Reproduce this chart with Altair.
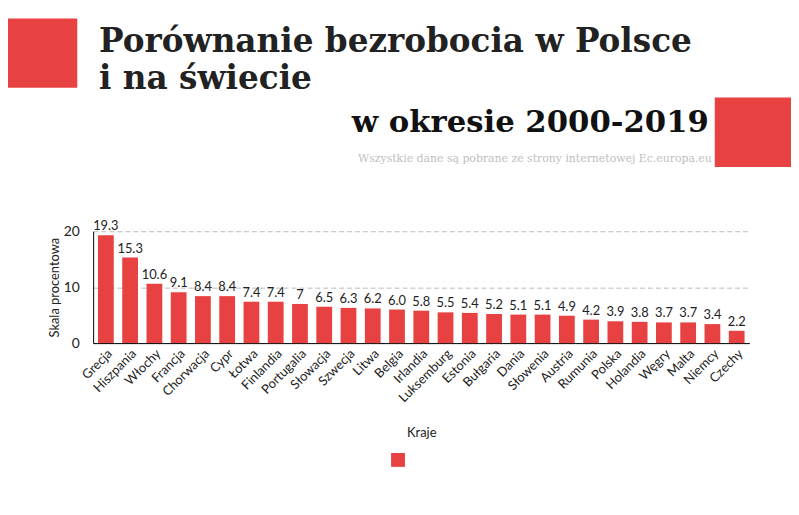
import altair as alt
import pandas as pd

countries = ["Grecja", "Hiszpania", "Włochy", "Francja", "Chorwacja", "Cypr", "Łotwa",
             "Finlandia", "Portugalia", "Słowacja", "Szwecja", "Litwa", "Belgia", "Irlandia",
             "Luksemburg", "Estonia", "Bułgaria", "Dania", "Słowenia", "Austria", "Rumunia",
             "Polska", "Holandia", "Węgry", "Malta", "Niemcy", "Czechy"]
values = [19.3, 15.3, 10.6, 9.1, 8.4, 8.4, 7.4, 7.4, 7.0, 6.5, 6.3, 6.2, 6.0, 5.8,
          5.5, 5.4, 5.2, 5.1, 5.1, 4.9, 4.2, 3.9, 3.8, 3.7, 3.7, 3.4, 2.2]
labels = ["19.3", "15.3", "10.6", "9.1", "8.4", "8.4", "7.4", "7.4", "7", "6.5", "6.3",
          "6.2", "6.0", "5.8", "5.5", "5.4", "5.2", "5.1", "5.1", "4.9", "4.2", "3.9",
          "3.8", "3.7", "3.7", "3.4", "2.2"]
y_ticks = [0, 10, 20]

RED = "#E84142"

df = pd.DataFrame({"Kraj": countries, "Wartosc": values, "Etykieta": labels, "seria": [""] * len(countries)})

x_enc = alt.X("Kraj:N", sort=None, title="Kraje",
              scale=alt.Scale(paddingInner=0.35, paddingOuter=0.2),
              axis=alt.Axis(labelAngle=-45, ticks=False, labelPadding=4, titlePadding=22,
                            domainColor="#000", labelFont="Lato", labelFontSize=13,
                            labelColor="#222", titleFont="Lato", titleFontSize=13,
                            titleFontWeight="normal", titleColor="#222"))
y_enc = alt.Y("Wartosc:Q", title="Skala procentowa",
              scale=alt.Scale(domain=[0, 20]),
              axis=alt.Axis(values=y_ticks, ticks=False, labelPadding=14, titlePadding=2,
                            grid=True, gridDash=[5, 3], gridColor="#bbbbbb",
                            domainColor="#000", labelFont="Lato", labelFontSize=14,
                            labelColor="#222", titleFont="Lato", titleFontSize=13,
                            titleFontWeight="normal", titleColor="#222"))

bars = alt.Chart(df).mark_bar(color=RED).encode(
    x=x_enc, y=y_enc,
    color=alt.Color("seria:N", scale=alt.Scale(range=[RED]),
                    legend=alt.Legend(orient="none", legendX=301, legendY=224, title=None,
                                      symbolType="square", symbolSize=196, symbolStrokeWidth=0,
                                      labelExpr="''", padding=0)),
)
texts = alt.Chart(df).mark_text(dy=-9, font="Lato", fontSize=13, color="#222").encode(
    x=alt.X("Kraj:N", sort=None), y="Wartosc:Q", text="Etykieta:N"
)

one = alt.Data(values=[{"a": 1}])
TFONT = "DejaVu Serif"

rect_left = alt.Chart(one).mark_rect(color=RED).encode(
    x=alt.value(-86), x2=alt.value(-16), y=alt.value(-215), y2=alt.value(-145))
rect_right = alt.Chart(one).mark_rect(color=RED).encode(
    x=alt.value(628), x2=alt.value(705), y=alt.value(-135), y2=alt.value(-65))
t1 = alt.Chart(one).mark_text(font=TFONT, fontWeight="bold", fontSize=33, color="#222",
                              align="left", baseline="alphabetic").encode(
    x=alt.value(6), y=alt.value(-181), text=alt.value("Porównanie bezrobocia w Polsce"))
t2 = alt.Chart(one).mark_text(font=TFONT, fontWeight="bold", fontSize=33, color="#222",
                              align="left", baseline="alphabetic").encode(
    x=alt.value(6), y=alt.value(-144), text=alt.value("i na świecie"))
t3 = alt.Chart(one).mark_text(font=TFONT, fontWeight="bold", fontSize=31, color="#111",
                              align="right", baseline="alphabetic").encode(
    x=alt.value(622), y=alt.value(-100), text=alt.value("w okresie 2000-2019"))
t4 = alt.Chart(one).mark_text(font="DejaVu Serif", fontSize=11, color="#c0c0c0",
                              align="right", baseline="alphabetic").encode(
    x=alt.value(625), y=alt.value(-70),
    text=alt.value("Wszystkie dane są pobrane ze strony internetowej Ec.europa.eu"))

chart = alt.layer(bars, texts, rect_left, rect_right, t1, t2, t3, t4).properties(
    width=663, height=113,
    autosize=alt.AutoSizeParams(type="none"),
    padding={"left": 86, "top": 223, "right": 42, "bottom": 160},
).configure_view(stroke=None).configure_axisY(domain=True)

chart.save("out.html", embed_options={"renderer": "svg", "actions": False})
